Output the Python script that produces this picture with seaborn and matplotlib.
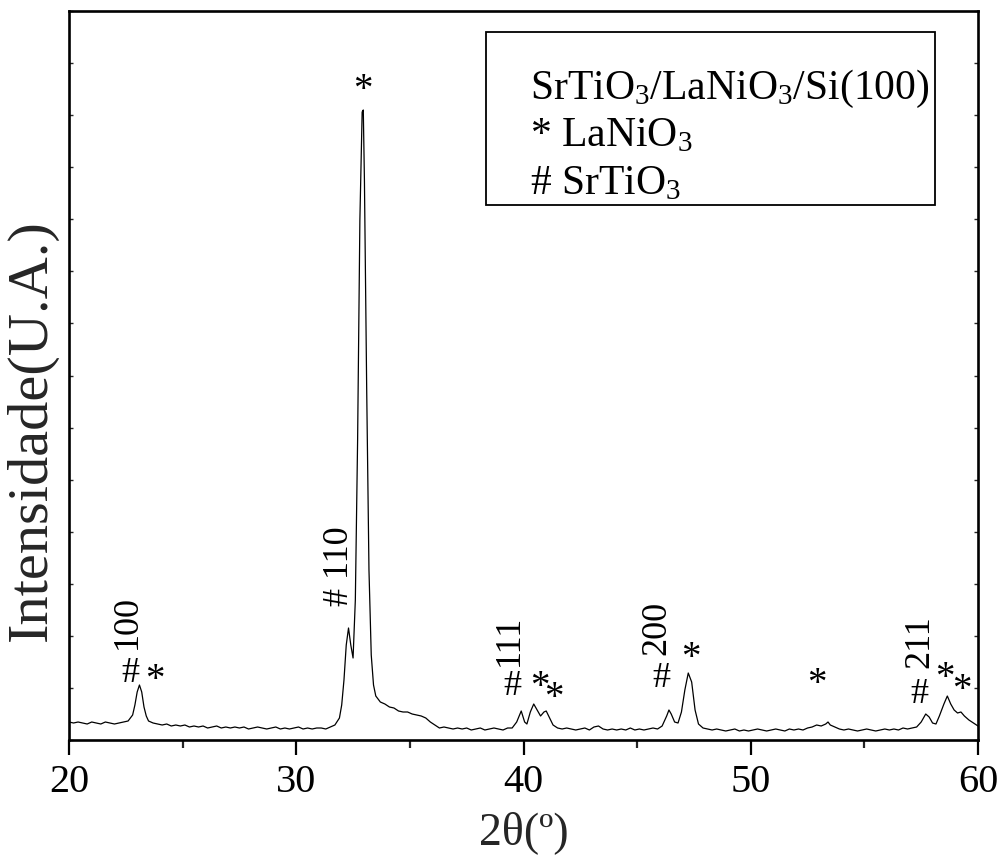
import numpy as np
import pandas as pd
import matplotlib
matplotlib.use("Agg")
import matplotlib.pyplot as plt
from matplotlib.patches import Rectangle
import seaborn as sns

# ---- data (intensity in arbitrary units) ----
two_theta = [
    20.0, 20.2, 20.4, 20.6, 20.8, 21.0, 21.2, 21.4, 21.6, 21.8, 22.0, 22.2, 22.4, 22.6,
    22.8, 22.9, 23.0, 23.1, 23.2, 23.3, 23.4, 23.5, 23.7, 23.9, 24.1, 24.3, 24.5, 24.7,
    24.9, 25.1, 25.3, 25.5, 25.7, 25.9, 26.1, 26.3, 26.5, 26.7, 26.9, 27.1, 27.3, 27.5,
    27.7, 27.9, 28.1, 28.3, 28.5, 28.7, 28.9, 29.1, 29.3, 29.5, 29.7, 29.9, 30.1, 30.3,
    30.5, 30.7, 30.9, 31.1, 31.3, 31.5, 31.7, 31.9, 32.0, 32.1, 32.2, 32.3, 32.4, 32.5,
    32.6, 32.7, 32.8, 32.9, 32.95, 33.0, 33.1, 33.2, 33.3, 33.4, 33.5, 33.7, 33.9, 34.1,
    34.3, 34.5, 34.7, 34.9, 35.1, 35.3, 35.5, 35.7, 35.9, 36.1, 36.3, 36.5, 36.7, 36.9,
    37.1, 37.3, 37.5, 37.7, 37.9, 38.1, 38.3, 38.5, 38.7, 38.9, 39.1, 39.3, 39.5, 39.7,
    39.9, 40.05, 40.15, 40.3, 40.45, 40.6, 40.75, 40.9, 41.0, 41.15, 41.3, 41.5, 41.7,
    41.9, 42.1, 42.3, 42.5, 42.7, 42.9, 43.1, 43.3, 43.5, 43.7, 43.9, 44.1, 44.3, 44.5,
    44.7, 44.9, 45.1, 45.3, 45.5, 45.7, 45.9, 46.1, 46.3, 46.4, 46.5, 46.65, 46.8, 46.95,
    47.1, 47.25, 47.4, 47.55, 47.7, 47.9, 48.1, 48.3, 48.5, 48.7, 48.9, 49.1, 49.3, 49.5,
    49.7, 49.9, 50.1, 50.3, 50.5, 50.7, 50.9, 51.1, 51.3, 51.5, 51.7, 51.9, 52.1, 52.3,
    52.5, 52.7, 52.9, 53.1, 53.3, 53.4, 53.5, 53.7, 53.9, 54.1, 54.3, 54.5, 54.7, 54.9,
    55.1, 55.3, 55.5, 55.7, 55.9, 56.1, 56.3, 56.5, 56.7, 56.9, 57.1, 57.3, 57.5, 57.7,
    57.85, 58.0, 58.15, 58.3, 58.5, 58.65, 58.8, 58.95, 59.1, 59.25, 59.4, 59.6, 59.8, 60.0,
]
intensity = [
    18, 17, 18, 17, 16, 18, 17, 16, 18, 17, 16, 17, 18, 19,
    25, 35, 48, 55, 48, 33, 24, 19, 17, 16, 15, 16, 14, 15,
    14, 15, 13, 14, 13, 14, 12, 13, 14, 12, 13, 12, 13, 12,
    13, 11, 12, 13, 12, 11, 12, 13, 11, 12, 11, 12, 13, 11,
    12, 11, 12, 12, 11, 13, 15, 22, 35, 60, 95, 112, 95, 82,
    140, 300, 520, 628, 630, 560, 350, 170, 85, 55, 44, 38, 36, 33,
    32, 29, 28, 28, 26, 25, 24, 22, 18, 15, 12, 13, 12, 11,
    12, 11, 12, 10, 11, 12, 10, 11, 12, 11, 10, 12, 12, 18,
    29, 18, 16, 28, 36, 30, 24, 28, 29, 22, 15, 12, 11,
    12, 11, 10, 11, 12, 10, 13, 14, 11, 10, 11, 10, 11, 10,
    12, 10, 11, 10, 11, 12, 11, 14, 24, 30, 26, 18, 17, 28,
    50, 67, 58, 30, 16, 12, 11, 10, 11, 10, 9, 10, 11, 9,
    10, 9, 10, 11, 10, 9, 10, 11, 10, 9, 11, 10, 11, 10,
    12, 13, 15, 14, 16, 18, 15, 13, 11, 10, 11, 10, 9, 10,
    11, 10, 9, 10, 11, 10, 11, 10, 12, 11, 12, 13, 18, 26,
    23, 17, 16, 24, 36, 44, 36, 30, 27, 28, 24, 20, 17, 14,
]
x_ticks = [20, 30, 40, 50, 60]

# peak markers: (text, 2theta, intensity, rotation)
peak_marks = [
    ("100", 22.55, 118, 90),
    ("#", 22.72, 58, 0),
    ("*", 23.78, 50, 0),
    ("# 110", 31.90, 174, 90),
    ("*", 32.93, 640, 0),
    ("111", 39.40, 100, 90),
    ("#", 39.50, 45, 0),
    ("*", 40.70, 43, 0),
    ("*", 41.35, 32, 0),
    ("200", 45.88, 112, 90),
    ("#", 46.05, 53, 0),
    ("*", 47.35, 72, 0),
    ("*", 52.90, 46, 0),
    ("211", 57.45, 98, 90),
    ("#", 57.40, 37, 0),
    ("*", 58.55, 52, 0),
    ("*", 59.30, 40, 0),
]
legend_lines = [r"SrTiO$_3$/LaNiO$_3$/Si(100)", r"* LaNiO$_3$", r"# SrTiO$_3$"]

df = pd.DataFrame({"two_theta": two_theta, "intensity": intensity})

sns.set_theme(style="ticks")
plt.rcParams["font.family"] = ["Liberation Serif", "DejaVu Serif"]
plt.rcParams["mathtext.fontset"] = "custom"
plt.rcParams["mathtext.rm"] = "Liberation Serif"
plt.rcParams["mathtext.it"] = "Liberation Serif:italic"

fig = plt.figure(figsize=(9.97, 8.57), dpi=100)
ax = fig.add_axes([69 / 997, 117 / 857, 909 / 997, 729 / 857])

sns.lineplot(data=df, x="two_theta", y="intensity", ax=ax, color="black",
             linewidth=0.9, sort=False, estimator=None)

ax.set_xlim(20, 60)
ax.set_ylim(0, 729)
ax.set_xticks(x_ticks)
ax.set_xticks(np.arange(25, 60, 10), minor=True)
ax.set_yticks(np.linspace(0, 729, 15))
ax.set_yticklabels([])

for s in ax.spines.values():
    s.set_linewidth(1.9)
    s.set_color("black")
    s.set_visible(True)

ax.tick_params(axis="x", which="major", direction="out", length=11, width=1.6,
               labelsize=29, pad=6, colors="black")
ax.tick_params(axis="x", which="minor", direction="out", length=6, width=1.6)
ax.tick_params(axis="y", which="major", direction="in", length=3, width=1.0,
               left=True, right=True, labelleft=False)

ax.set_xlabel("2θ(º)", fontsize=33)
ax.xaxis.set_label_coords(0.5, -0.097)
ax.set_ylabel("Intensidade(U.A.)", fontsize=42)
ax.yaxis.set_label_coords(-0.012, 0.425)

for txt, xx, yy, rot in peak_marks:
    ax.text(xx, yy, txt, rotation=rot, ha="center", va="baseline" if rot == 0 else "center",
            fontsize=26 if txt != "*" else 28, color="black")

ax.add_patch(Rectangle((0.459, 0.734), 0.494, 0.237, transform=ax.transAxes,
                       fill=False, edgecolor="black", linewidth=1.3))
for i, line in enumerate(legend_lines):
    ax.text(0.507, 0.893 - i * 0.065, line, transform=ax.transAxes, fontsize=30,
            ha="left", va="center", color="black")

fig.savefig("out.png", dpi=100)
